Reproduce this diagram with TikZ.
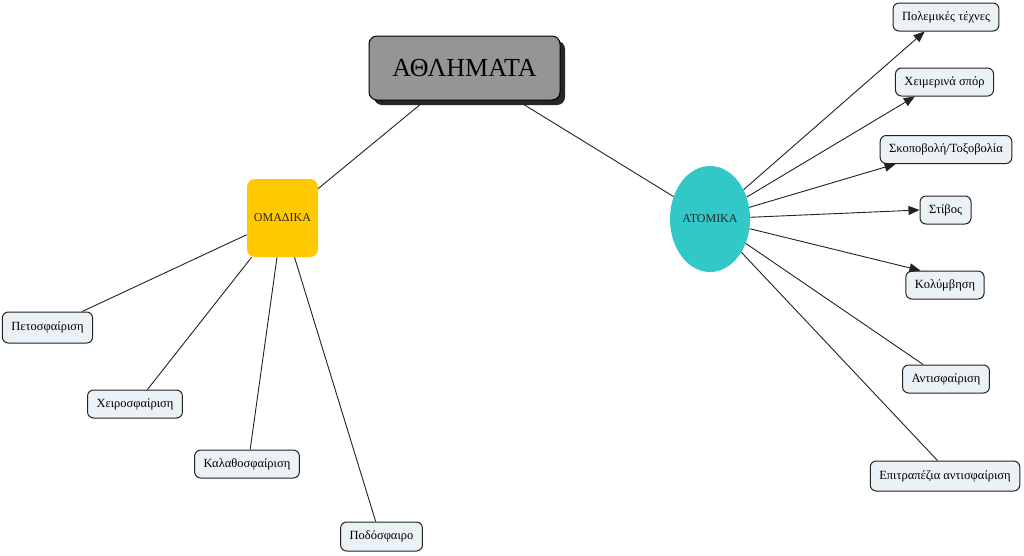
\documentclass[tikz,border=0pt]{standalone}
\usepackage{fontspec}
\setmainfont{Liberation Serif}
\usetikzlibrary{calc,shadows,arrows.meta,shapes.geometric}
\pgfdeclarelayer{background}
\pgfsetlayers{background,main}
\definecolor{leaffill}{HTML}{EAF2F6}
\definecolor{edgecol}{HTML}{222222}
\definecolor{rootfill}{HTML}{959595}
\definecolor{omfill}{HTML}{FFC800}
\definecolor{atfill}{HTML}{33C8C8}
\begin{document}
\begin{tikzpicture}[x=1pt,y=-1pt,
  leaf/.style={draw=edgecol,line width=1pt,fill=leaffill,rounded corners=6pt,
    inner xsep=9pt,inner ysep=0pt,minimum height=28pt,font=\fontsize{12.5}{13}\selectfont},
  conn/.style={draw=edgecol,line width=0.9pt},
  arr/.style={conn,-{Triangle[length=11pt,width=9pt]}}]
\useasboundingbox (0,0) rectangle (1024,555);
% main nodes
\node[draw=black,line width=1pt,fill=rootfill,rounded corners=8pt,minimum width=191pt,minimum height=64pt,
  drop shadow={shadow xshift=5pt,shadow yshift=-5pt,fill=black!85,opacity=1},
  font=\fontsize{26}{28}\selectfont] (ath) at (464.5,68) {ΑΘΛΗΜΑΤΑ};
\node[fill=omfill,rounded corners=8pt,minimum width=71pt,minimum height=78pt,inner sep=0pt,
  text=black!85,font=\fontsize{12}{13}\selectfont] (om) at (282.5,218) {ΟΜΑΔΙΚΑ};
\node[ellipse,fill=atfill,minimum width=80pt,minimum height=106pt,inner sep=0pt,
  text=black!85,font=\fontsize{12}{13}\selectfont] (at) at (710,219) {ΑΤΟΜΙΚΑ};
% leaves right
\node[leaf] (pol) at (946,17) {Πολεμικές τέχνες};
\node[leaf] (chei) at (944.5,82) {Χειμερινά σπόρ};
\node[leaf] (sko) at (946,149.5) {Σκοποβολή/Τοξοβολία};
\node[leaf] (stivos) at (945.5,210) {Στίβος};
\node[leaf] (kol) at (945,285) {Κολύμβηση};
\node[leaf] (anti) at (946,379) {Αντισφαίριση};
\node[leaf,minimum height=30pt] (epi) at (945,476) {Επιτραπέζια αντισφαίριση};
% leaves left
\node[leaf,minimum height=31pt] (peto) at (47.5,327.5) {Πετοσφαίριση};
\node[leaf] (xeiro) at (135,404) {Χειροσφαίριση};
\node[leaf] (kala) at (247,464) {Καλαθοσφαίριση};
\node[leaf,minimum height=29pt] (podo) at (381.5,536.5) {Ποδόσφαιρο};
% anchor points
\coordinate (tpol) at ($(pol.south west)!0.3!(pol.south east)$);
\coordinate (tchei) at ($(chei.south west)!0.2!(chei.south east)$);
\coordinate (tsko) at ($(sko.south west)!0.12!(sko.south east)$);
\coordinate (tkol) at ($(kol.north west)!0.19!(kol.north east)$);
\coordinate (tanti) at ($(anti.north west)!0.24!(anti.north east)$);
\coordinate (tepi) at ($(epi.north west)!0.45!(epi.north east)$);
\coordinate (tpeto) at ($(peto.north west)!0.88!(peto.north east)$);
\coordinate (txeiro) at ($(xeiro.north west)!0.63!(xeiro.north east)$);
\coordinate (tkala) at ($(kala.north west)!0.53!(kala.north east)$);
\coordinate (tpodo) at ($(podo.north west)!0.43!(podo.north east)$);
\begin{pgfonlayer}{background}
\fill[white] (0,0) rectangle (1024,555);
\draw[conn] (ath) -- (om);
\draw[conn] (ath) -- (at);
\draw[conn] (om) -- (tpeto);
\draw[conn] (om) -- (txeiro);
\draw[conn] (om) -- (tkala);
\draw[conn] (om) -- (tpodo);
\end{pgfonlayer}
\draw[arr] (at) -- (tpol);
\draw[arr] (at) -- (tchei);
\draw[arr] (at) -- (tsko);
\draw[arr] (at) -- (stivos.west);
\draw[arr] (at) -- (tkol);
\draw[conn] (at) -- (tanti);
\draw[conn] (at) -- (tepi);
\end{tikzpicture}
\end{document}
